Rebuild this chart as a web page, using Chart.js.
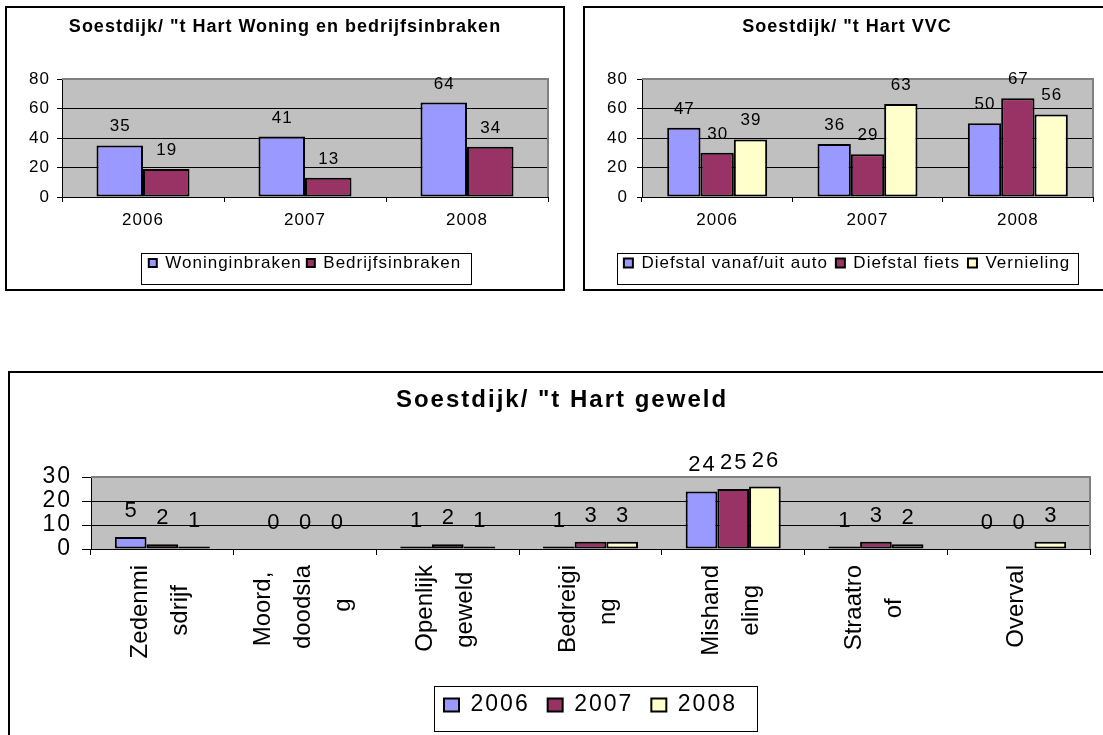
<!DOCTYPE html>
<html>
<head>
<meta charset="utf-8">
<script src="https://cdn.jsdelivr.net/npm/chart.js@4.4.1/dist/chart.umd.min.js"></script>
<style>
html, body { margin: 0; padding: 0; background: #fff; overflow: hidden; }
body { width: 1103px; height: 735px; position: relative; }
.box { position: absolute; border: 2px solid #000; box-sizing: border-box; background: #fff; }
.box canvas { position: absolute; left: 0; top: 0; }
</style>
</head>
<body>
<div class="box" style="left:5px;top:6px;width:560px;height:285px"><canvas id="inbraken" width="556" height="281" style="width:556px;height:281px"></canvas></div>
<div class="box" style="left:583px;top:6px;width:532px;height:285px"><canvas id="vvc" width="528" height="281" style="width:528px;height:281px"></canvas></div>
<div class="box" style="left:8px;top:371px;width:1107px;height:382px"><canvas id="geweld" width="1103" height="378" style="width:1103px;height:378px"></canvas></div>
<script>
const FONT = '"Liberation Sans", Arial, sans-serif';
const BLUE = '#9999FF', PLUM = '#993366', CREAM = '#FFFFCC';

// Woning en bedrijfsinbraken
const years = ['2006', '2007', '2008'];
const woninginbraken = [35, 41, 64];
const bedrijfsinbraken = [19, 13, 34];

// VVC
const diefstalAuto = [47, 36, 50];
const diefstalFiets = [30, 29, 67];
const vernieling = [39, 63, 56];

// geweld
const geweldCategories = [
    ['Zedenmi', 'sdrijf'],
    ['Moord,', 'doodsla', 'g'],
    ['Openlijk', 'geweld'],
    ['Bedreigi', 'ng'],
    ['Mishand', 'eling'],
    ['Straatro', 'of'],
    ['Overval']
];
const geweldYears = ['2006', '2007', '2008'];
const geweld2006 = [5, 0, 1, 1, 24, 1, 0];
const geweld2007 = [2, 0, 2, 3, 25, 3, 0];
const geweld2008 = [1, 0, 1, 3, 26, 2, 3];

Chart.defaults.color = '#000';
Chart.defaults.font.family = FONT;

const measure = document.createElement('canvas').getContext('2d');

// rotated multi-line labels: blank lines in between keep the block centred on the tick,
// trailing spaces centre the shorter lines along the text direction
function centerLines(lines, size) {
    measure.font = size + 'px ' + FONT;
    const space = measure.measureText(' ').width;
    const widest = Math.max(...lines.map(l => measure.measureText(l).width));
    const out = ['', '', '', '', ''];
    const start = 2 - (lines.length - 1);
    lines.forEach((l, k) => {
        const pad = Math.round((widest - measure.measureText(l).width) / 2 / space);
        out[start + 2 * k] = l + ' '.repeat(pad);
    });
    return out.slice(0, start + 2 * (lines.length - 1) + 1);
}

const excelLook = {
    id: 'excelLook',
    beforeUpdate(chart, args, opts) {
        chart.ctx.letterSpacing = opts.spacing + 'px';
    },
    beforeDraw(chart, args, opts) {
        const {ctx, chartArea: a} = chart;
        ctx.letterSpacing = opts.spacing + 'px';
        ctx.save();
        ctx.fillStyle = '#C0C0C0';
        ctx.fillRect(a.left, a.top, a.width, a.height);
        ctx.restore();
    },
    beforeDatasetsDraw(chart, args, opts) {
        const {ctx, chartArea: a} = chart;
        ctx.save();
        ctx.strokeStyle = '#808080';
        ctx.lineWidth = 2;
        ctx.beginPath();
        ctx.moveTo(a.left, a.top);
        ctx.lineTo(a.right, a.top);
        ctx.lineTo(a.right, a.bottom);
        ctx.stroke();
        ctx.restore();
    },
    afterDatasetsDraw(chart, args, opts) {
        const ctx = chart.ctx;
        ctx.save();
        ctx.font = opts.valueSize + 'px ' + FONT;
        ctx.fillStyle = '#000';
        ctx.textAlign = 'center';
        ctx.textBaseline = 'alphabetic';
        chart.data.datasets.forEach((ds, i) => {
            chart.getDatasetMeta(i).data.forEach((bar, j) => {
                ctx.fillText(String(ds.data[j]), bar.x + opts.spacing / 2, bar.y - opts.valueGap);
            });
        });
        ctx.restore();
        ctx.letterSpacing = opts.tickSpacing + 'px';
    },
    afterDraw(chart, args, opts) {
        const hb = chart.legend.legendHitBoxes;
        if (!hb || !hb.length) return;
        const first = hb[0], last = hb[hb.length - 1];
        const f = opts.frame;
        const cy = first.top + first.height / 2;
        const x1 = Math.round(first.left - f[0]) + 0.5;
        const x2 = Math.round(last.left + last.width + f[1]) + 0.5;
        const y1 = Math.round(cy - f[2]) + 0.5;
        const y2 = Math.round(cy + f[3]) + 0.5;
        const ctx = chart.ctx;
        ctx.save();
        ctx.strokeStyle = '#000';
        ctx.lineWidth = 1;
        ctx.strokeRect(x1, y1, x2 - x1, y2 - y1);
        ctx.restore();
    }
};

function barChart(id, o) {
    return new Chart(document.getElementById(id), {
        type: 'bar',
        data: {
            labels: o.labels,
            datasets: o.series.map(s => ({
                label: s[0],
                data: s[1],
                backgroundColor: s[2],
                borderColor: '#000',
                borderWidth: 2,
                borderSkipped: false,
                categoryPercentage: o.cat,
                barPercentage: 1
            }))
        },
        plugins: [excelLook],
        options: {
            responsive: false,
            animation: false,
            devicePixelRatio: 1,
            layout: {padding: o.pad},
            plugins: {
                title: {
                    display: true,
                    text: o.title,
                    color: '#000',
                    font: {size: o.titleSize, weight: 'bold', family: FONT},
                    padding: o.titlePad
                },
                legend: {
                    position: 'bottom',
                    fullSize: o.legendFull,
                    labels: {
                        boxWidth: o.box[0],
                        boxHeight: o.box[1],
                        padding: o.legendGap,
                        color: '#000',
                        font: {size: o.legendSize, family: FONT}
                    }
                },
                tooltip: {enabled: false},
                excelLook: {
                    spacing: o.spacing,
                    tickSpacing: o.tickSpacing,
                    valueSize: o.valueSize,
                    valueGap: o.valueGap,
                    frame: o.frame
                }
            },
            scales: {
                x: {
                    afterFit: s => { s.height = o.xHeight; },
                    grid: {offset: true, drawOnChartArea: false, drawTicks: true, tickLength: o.xTick, tickColor: '#000'},
                    border: {color: '#000', width: 1},
                    ticks: Object.assign({
                        color: '#000',
                        autoSkip: false,
                        padding: o.xPad,
                        font: {size: o.xSize, family: FONT}
                    }, o.xTicks || {maxRotation: 0})
                },
                y: {
                    min: 0,
                    max: o.max,
                    afterFit: s => { s.width = o.yWidth; },
                    grid: {
                        color: c => (c.tick && c.tick.value === o.max) ? 'rgba(0,0,0,0)' : '#000',
                        tickColor: '#000',
                        tickLength: o.yTick,
                        lineWidth: 1
                    },
                    border: {color: '#000', width: 1},
                    ticks: {
                        stepSize: o.step,
                        autoSkip: false,
                        color: '#000',
                        padding: o.yPad,
                        font: {size: o.ySize, family: FONT}
                    }
                }
            }
        }
    });
}

barChart('inbraken', {
    title: 'Soestdijk/ "t Hart Woning en bedrijfsinbraken',
    labels: years,
    series: [['Woninginbraken', woninginbraken, BLUE], ['Bedrijfsinbraken', bedrijfsinbraken, PLUM]],
    cat: 0.574, max: 80, step: 20,
    pad: {left: 15, right: 15, top: 0, bottom: 7.5},
    titleSize: 18, titlePad: {top: 8.2, bottom: 41.2},
    spacing: 1, tickSpacing: 1,
    legendFull: false, box: [8, 8], legendGap: 5, legendSize: 17, frame: [8, 10, 10, 21],
    valueSize: 17, valueGap: 14,
    xHeight: 52.5, xTick: 5, xPad: 8.3, xSize: 17,
    yWidth: 40, yTick: 5, yPad: 7, ySize: 17
});

barChart('vvc', {
    title: 'Soestdijk/ "t Hart VVC',
    labels: years,
    series: [['Diefstal vanaf/uit auto', diefstalAuto, BLUE], ['Diefstal fiets', diefstalFiets, PLUM], ['Vernieling', vernieling, CREAM]],
    cat: 0.665, max: 80, step: 20,
    pad: {left: 16, right: 20, top: 0, bottom: 7.5},
    titleSize: 18, titlePad: {top: 8.2, bottom: 41.2},
    spacing: 1, tickSpacing: 1,
    legendFull: true, box: [9, 9], legendGap: 8, legendSize: 17, frame: [7, 8, 10, 21],
    valueSize: 17, valueGap: 14,
    xHeight: 49.5, xTick: 5, xPad: 8.3, xSize: 17,
    yWidth: 41, yTick: 5, yPad: 9, ySize: 17
});

barChart('geweld', {
    title: 'Soestdijk/ "t Hart geweld',
    labels: geweldCategories,
    series: [[geweldYears[0], geweld2006, BLUE], [geweldYears[1], geweld2007, PLUM], [geweldYears[2], geweld2008, CREAM]],
    cat: 0.666, max: 30, step: 10,
    pad: {left: 24, right: 23, top: 0, bottom: 24.5},
    titleSize: 24, titlePad: {top: 12.6, bottom: 62.6},
    spacing: 2, tickSpacing: 0,
    legendFull: false, box: [15, 13], legendGap: 18, legendSize: 23, frame: [10, 20, 19, 26],
    valueSize: 22, valueGap: 20,
    xHeight: 126.5, xTick: 6, xPad: 10, xSize: 24,
    xTicks: {
        minRotation: 90,
        maxRotation: 90,
        labelOffset: -42,
        z: 1,
        font: {size: 24, family: FONT, lineHeight: 20 / 24},
        callback: (v, i) => centerLines(geweldCategories[i], 24)
    },
    yWidth: 57, yTick: 9, yPad: 10, ySize: 23
});
</script>
</body>
</html>
